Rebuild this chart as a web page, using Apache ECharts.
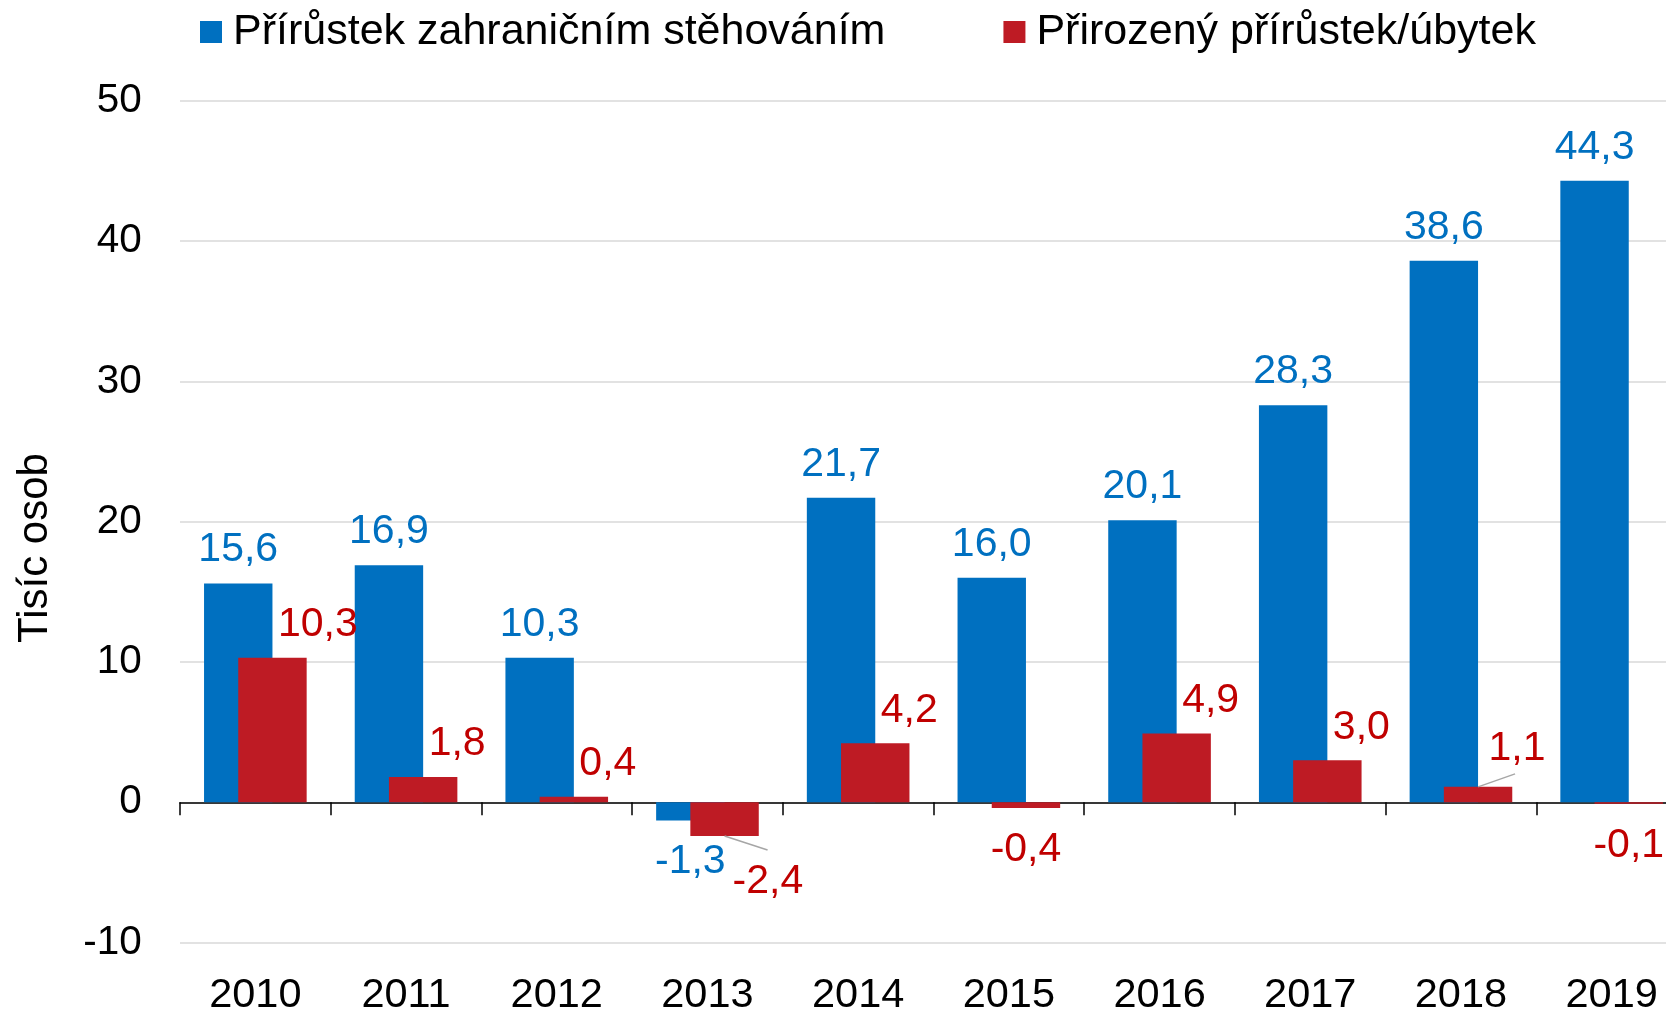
<!DOCTYPE html>
<html>
<head>
<meta charset="utf-8">
<style>
  html, body { margin: 0; padding: 0; background: #ffffff; }
  #chart { width: 1666px; height: 1012px; }
</style>
<script src="https://cdn.jsdelivr.net/npm/echarts@6/dist/echarts.min.js"></script>
</head>
<body>
<div id="chart"></div>
<script>
// ---- data ----
const categories = ['2010', '2011', '2012', '2013', '2014', '2015', '2016', '2017', '2018', '2019'];
const migration = [15.6, 16.9, 10.3, -1.3, 21.7, 16.0, 20.1, 28.3, 38.6, 44.3];
const natural = [10.3, 1.8, 0.4, -2.4, 4.2, -0.4, 4.9, 3.0, 1.1, -0.1];
const seriesNames = ['Přírůstek zahraničním stěhováním', 'Přirozený přírůstek/úbytek'];
const yAxisName = 'Tisíc osob';
const yMin = -10, yMax = 50, yInterval = 10;

// ---- style ----
const FONT = '"Liberation Sans", Arial, Helvetica, sans-serif';
const BLUE = '#0070C0';
const RED_BAR = '#BE1B24';
const RED_TXT = '#C00000';
const BAR_W = 0.454;
const LABEL_SIZE = 41;
const redLabelOverrides = {
  3: { position: 'bottom', align: 'left', offset: [8, 0], distance: 25 },
  8: { position: 'top', align: 'left', offset: [10.5, 0], distance: 18 }
};
const leaderLines = [
  { idx: 3, dx: 43, dy: 14 },
  { idx: 8, dx: 37, dy: -13 }
];

const fmt = v => v.toFixed(1).replace('.', ',');

const blueData = migration.map(v => ({
  value: v,
  label: v >= 0 ? { position: 'top', distance: 13 } : { position: 'bottom', distance: 21 }
}));
const redData = natural.map((v, i) => ({
  value: v,
  label: redLabelOverrides[i] ||
    (v >= 0 ? { position: 'top', align: 'left', offset: [5.5, 0], distance: 12.5 }
            : { position: 'bottom', distance: 21 })
}));

const chart = echarts.init(document.getElementById('chart'), null, { renderer: 'canvas' });
chart.setOption({
  animation: false,
  backgroundColor: '#ffffff',
  textStyle: { fontFamily: FONT },
  grid: { left: 180, width: 1507, top: 100.8, height: 841.8, containLabel: false, outerBoundsMode: 'none' },
  legend: {
    data: seriesNames,
    left: 200,
    top: 10.5,
    padding: 0,
    itemWidth: 22,
    itemHeight: 22,
    itemGap: 118,
    icon: 'rect',
    selectedMode: false,
    textStyle: { fontSize: 43, color: '#000', fontFamily: FONT, padding: [0, 0, 0, 6] }
  },
  graphic: [{
    type: 'text',
    x: 35.5,
    y: 548,
    rotation: Math.PI / 2,
    style: {
      text: yAxisName,
      fontSize: 42,
      fontFamily: FONT,
      fill: '#000',
      align: 'center',
      verticalAlign: 'middle'
    }
  }],
  xAxis: [{
    type: 'category',
    data: categories,
    position: 'bottom',
    axisLine: { show: true, onZero: true, lineStyle: { color: '#000', width: 1.5 } },
    axisTick: { show: true, length: 13, lineStyle: { color: '#000', width: 1.5 } },
    axisLabel: { show: false },
    splitLine: { show: false }
  }, {
    type: 'category',
    data: categories,
    position: 'bottom',
    axisLine: { show: false, onZero: false },
    axisTick: { show: false },
    axisLabel: { show: true, margin: 32, fontSize: 41.5, color: '#000', fontFamily: FONT },
    splitLine: { show: false }
  }],
  yAxis: {
    type: 'value',
    min: yMin,
    max: yMax,
    interval: yInterval,
    axisLine: { show: false },
    axisTick: { show: false },
    axisLabel: { margin: 38.3, fontSize: 40.5, color: '#000', fontFamily: FONT },
    splitLine: { show: true, lineStyle: { color: '#D9D9D9', width: 1.5 } }
  },
  series: [{
    name: seriesNames[0],
    type: 'bar',
    xAxisIndex: 0,
    data: blueData,
    barWidth: (BAR_W * 100) + '%',
    barGap: '-50%',
    itemStyle: { color: BLUE },
    label: {
      show: true,
      color: BLUE,
      fontSize: LABEL_SIZE,
      fontFamily: FONT,
      formatter: p => fmt(p.value)
    },
    z: 2
  }, {
    name: seriesNames[1],
    type: 'bar',
    xAxisIndex: 0,
    data: redData,
    barWidth: (BAR_W * 100) + '%',
    barGap: '-50%',
    itemStyle: { color: RED_BAR },
    label: {
      show: true,
      color: RED_TXT,
      fontSize: LABEL_SIZE,
      fontFamily: FONT,
      formatter: p => fmt(p.value)
    },
    z: 3
  }, {
    name: 'leader',
    type: 'custom',
    xAxisIndex: 0,
    silent: true,
    z: 4,
    data: leaderLines.map(l => [l.idx, natural[l.idx]]),
    encode: { x: 0, y: 1 },
    renderItem: (params, api) => {
      const p = api.coord([api.value(0), api.value(1)]);
      const band = api.size([1, 0])[0];
      const cx = p[0] + band * BAR_W * 0.25;
      const L = leaderLines[params.dataIndex];
      return {
        type: 'line',
        shape: { x1: cx, y1: p[1], x2: cx + L.dx, y2: p[1] + L.dy },
        style: { stroke: '#A6A6A6', lineWidth: 1.5 }
      };
    }
  }]
});
</script>
</body>
</html>
